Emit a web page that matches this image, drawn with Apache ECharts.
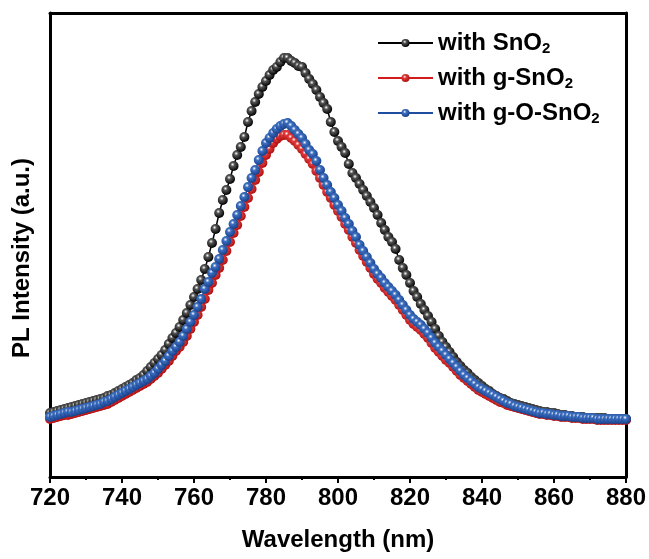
<!DOCTYPE html>
<html>
<head>
<meta charset="utf-8">
<title>PL spectra</title>
<script src="https://cdn.jsdelivr.net/npm/echarts@6/dist/echarts.min.js"></script>
<style>
  html, body { margin: 0; padding: 0; background: #fff; }
  #chart { width: 649px; height: 559px; }
</style>
</head>
<body>
<div id="chart"></div>
<script>
// wavelength, 1 nm steps
var wavelength = [];
for (var w = 720; w <= 880; w++) wavelength.push(w);

var xTicks = [720, 740, 760, 780, 800, 820, 840, 860, 880];

// PL intensity (a.u.)
var snO2 = [
  64,65,66,67,68,69,70,71,72,73,74,75,76,77,78,79,81,82,84,86,
  88,90,92,94,97,99,102,106,110,114,118,122,127,133,139,144,150,157,164,172,
  180,188,197,208,220,234,248,264,277,287,298,311,322,330,340,355,366,375,383,390,
  396,402,407,410,415,419,419,416,414,411,410,404,398,393,387,380,374,368,355,345,
  336,330,324,313,304,299,293,287,281,275,269,262,254,247,240,235,228,217,209,202,
  194,186,180,173,167,161,155,148,141,135,130,125,120,115,111,107,104,100,97,94,
  91,88,86,83,81,79,78,76,74,73,72,71,70,69,68,67,66,65,65,64,
  64,63,62,62,61,61,60,60,60,59,59,59,59,59,59,58,58,58,58,58,
  58
];
var gSnO2 = [
  58,59,60,61,62,62,63,64,65,66,67,68,69,70,71,72,73,75,77,79,
  81,83,85,87,89,91,93,95,98,101,104,108,112,116,121,126,130,135,141,148,
  155,162,170,178,187,194,202,209,217,226,235,244,252,261,270,279,288,297,305,314,
  322,328,334,338,341,342,342,339,336,332,328,323,318,313,306,299,292,285,279,272,
  266,260,253,247,240,234,227,221,215,209,203,198,194,189,185,181,177,172,167,162,
  157,153,150,147,143,139,134,129,125,121,117,114,110,106,102,99,96,93,90,87,
  85,83,81,79,77,75,74,72,71,70,69,68,67,66,65,64,63,63,62,62,
  61,61,60,60,60,59,59,59,58,58,58,58,57,57,57,57,57,57,57,57,
  57
];
var gOSnO2 = [
  60,61,62,63,64,65,65,66,67,68,69,70,71,72,73,75,76,78,80,82,
  84,86,88,90,92,94,96,98,101,104,108,112,116,121,126,130,135,141,148,155,
  162,170,178,188,195,204,210,218,227,236,245,253,262,271,280,290,299,307,317,326,
  334,339,344,348,351,353,354,351,347,343,339,333,327,323,316,307,299,292,285,279,
  272,266,259,253,246,240,232,226,220,214,208,203,199,194,190,186,182,177,172,167,
  162,158,155,152,148,144,139,134,130,126,122,118,114,110,106,102,99,96,93,90,
  88,86,84,82,80,78,76,74,73,71,70,69,68,67,66,65,64,64,63,63,
  62,62,61,61,61,60,60,60,59,59,59,59,58,58,58,58,58,58,58,58,
  58
];

function pairs(vals) {
  return wavelength.map(function (w, i) { return [w, vals[i]]; });
}

function ball(dark, mid) {
  return {
    type: 'radial', x: 0.4, y: 0.35, r: 0.65,
    colorStops: [
      { offset: 0, color: '#ffffff' },
      { offset: 0.3, color: mid },
      { offset: 1, color: dark }
    ]
  };
}

var font = 'Liberation Sans, Arial, sans-serif';

var myChart = echarts.init(document.getElementById('chart'));
var option = {
  animation: false,
  grid: { left: 50, right: 22, top: 13, bottom: 82 },
  legend: {
    left: 372,
    top: 26,
    orient: 'vertical',
    itemWidth: 55,
    itemHeight: 10,
    itemGap: 10,
    data: ['with SnO2', 'with g-SnO2', 'with g-O-SnO2'],
    formatter: function (name) {
      return '{t|' + name.slice(0, -1) + '}{s|2}';
    },
    textStyle: {
      rich: {
        t: { fontFamily: font, fontWeight: 'bold', fontSize: 24, color: '#000', lineHeight: 26 },
        s: { fontFamily: font, fontWeight: 'bold', fontSize: 15, color: '#000', lineHeight: 26, verticalAlign: 'bottom', padding: [9, 0, 0, 0] }
      }
    }
  },
  xAxis: [
    {
      type: 'value',
      min: 720,
      max: 880,
      interval: 20,
      name: 'Wavelength (nm)',
      nameLocation: 'middle',
      nameGap: 51,
      nameTextStyle: { fontFamily: font, fontWeight: 'bold', fontSize: 24, color: '#000' },
      axisLine: { show: true, onZero: false, lineStyle: { color: '#000', width: 3 } },
      axisTick: { show: true, inside: false, length: 6, lineStyle: { color: '#000', width: 2 } },
      minorTick: { show: true, splitNumber: 2, length: 3, lineStyle: { color: '#000', width: 2 } },
      axisLabel: {
        margin: 9,
        fontFamily: font, fontWeight: 'bold', fontSize: 24, color: '#000',
        formatter: function (v) { return xTicks.indexOf(v) >= 0 ? String(v) : ''; }
      },
      splitLine: { show: false }
    },
    {
      type: 'value',
      position: 'top',
      min: 720,
      max: 880,
      axisLine: { show: true, onZero: false, lineStyle: { color: '#000', width: 3 } },
      axisTick: { show: false },
      axisLabel: { show: false },
      splitLine: { show: false }
    }
  ],
  yAxis: [
    {
      type: 'value',
      min: 0,
      max: 464,
      name: 'PL Intensity (a.u.)',
      nameLocation: 'middle',
      nameGap: 16,
      nameTextStyle: { fontFamily: font, fontWeight: 'bold', fontSize: 24, color: '#000', padding: [0, 26, 0, 0] },
      axisLine: { show: true, onZero: false, lineStyle: { color: '#000', width: 3 } },
      axisTick: { show: false },
      axisLabel: { show: false },
      splitLine: { show: false }
    },
    {
      type: 'value',
      position: 'right',
      min: 0,
      max: 464,
      axisLine: { show: true, onZero: false, lineStyle: { color: '#000', width: 3 } },
      axisTick: { show: false },
      axisLabel: { show: false },
      splitLine: { show: false }
    }
  ],
  series: [
    {
      name: 'with SnO2',
      type: 'line',
      data: pairs(snO2),
      symbol: 'circle',
      symbolSize: 10,
      lineStyle: { color: '#000', width: 1.5 },
      itemStyle: { color: ball('#000000', '#555555'), borderWidth: 0 }
    },
    {
      name: 'with g-SnO2',
      type: 'line',
      data: pairs(gSnO2),
      symbol: 'circle',
      symbolSize: 10,
      lineStyle: { color: '#d41c1c', width: 1.5 },
      itemStyle: { color: ball('#b01010', '#e03a3a'), borderWidth: 0 }
    },
    {
      name: 'with g-O-SnO2',
      type: 'line',
      data: pairs(gOSnO2),
      symbol: 'circle',
      symbolSize: 10,
      lineStyle: { color: '#1f4e9e', width: 1.5 },
      itemStyle: { color: ball('#173f8a', '#3d6fc0'), borderWidth: 0 }
    }
  ]
};
myChart.setOption(option);
</script>
</body>
</html>
